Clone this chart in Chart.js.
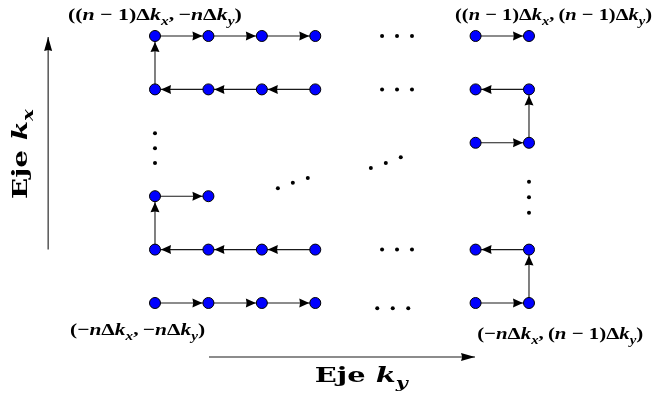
<!DOCTYPE html>
<html><head><meta charset="utf-8">
<script src="https://cdn.jsdelivr.net/npm/chart.js@4"></script>
<style>html,body{margin:0;padding:0;background:#fff;}canvas{display:block}</style>
</head><body>
<canvas id="c" width="653" height="398"></canvas>
<script>
// Grid traversal paths: [column (k_y index), row (k_x index)]
const pathLeftRow0     = [[0,0],[1,0],[2,0],[3,0]];
const pathLeftRows1to2 = [[3,1],[2,1],[1,1],[0,1],[0,2],[1,2]];
const pathLeftRows4to5 = [[3,4],[2,4],[1,4],[0,4],[0,5],[1,5],[2,5],[3,5]];
const pathRightRows0to1 = [[6,0],[7,0],[7,1],[6,1]];
const pathRightRows3to4 = [[6,3],[7,3],[7,4],[6,4]];
const pathRightRow5     = [[6,5],[7,5]];
// Ellipsis dots
const ellipsisRows = [[4.25,5],[4.53,5],[4.81,5],[4.25,4],[4.53,4],[4.81,4],[4.25,1],[4.53,1],[4.81,1],[4.16,-0.1],[4.45,-0.1],[4.74,-0.1]];
const ellipsisCols = [[0,3.18],[0,2.9],[0,2.62],[7,2.27],[7,1.98],[7,1.69]];
const ellipsisDiag = [[2.30,2.15],[2.58,2.25],[2.86,2.34],[4.04,2.53],[4.32,2.62],[4.60,2.73]];
// Axis arrows
const axisKx = [[-2,1],[-2,4.98]];
const axisKy = [[1.01,-1.01],[5.99,-1.01]];
// Corner labels: runs (r = bold upright, i = bold italic, s = italic subscript)
const labelTopLeft     = [['((','r'],['n','i'],[' − 1)Δ','r'],['k','i'],['x','s'],[',\u2009−','r'],['n','i'],['Δ','r'],['k','i'],['y','s'],[')','r']];
const labelTopRight    = [['((','r'],['n','i'],[' − 1)Δ','r'],['k','i'],['x','s'],[',\u2009(','r'],['n','i'],[' − 1)Δ','r'],['k','i'],['y','s'],[')','r']];
const labelBottomLeft  = [['(−','r'],['n','i'],['Δ','r'],['k','i'],['x','s'],[',\u2009−','r'],['n','i'],['Δ','r'],['k','i'],['y','s'],[')','r']];
const labelBottomRight = [['(−','r'],['n','i'],['Δ','r'],['k','i'],['x','s'],[',\u2009(','r'],['n','i'],[' − 1)Δ','r'],['k','i'],['y','s'],[')','r']];
const titleKx = [['Eje ','r'],['k','i'],['x','s']];
const titleKy = [['Eje ','r'],['k','i'],['y','s']];

const LABEL_FONT = '"Liberation Serif", serif';
const TITLE_FONT = '"DejaVu Serif", serif';
function runFont(style, size, fam){
  if(style==='r') return 'bold '+size+'px '+fam;
  if(style==='i') return 'italic bold '+size+'px '+fam;
  return 'italic bold '+Math.round(size*0.7)+'px '+fam;
}
function richWidth(ctx, runs, size, fam){
  let w=0; for(const [t,s] of runs){ctx.font=runFont(s,size,fam); w+=ctx.measureText(t).width;} return w;
}
function drawRich(ctx, runs, x, y, size, fam, fitW, align, rot){
  const nat = richWidth(ctx, runs, size, fam);
  const sx = fitW ? fitW/nat : 1;
  const w = nat*sx;
  ctx.save();
  ctx.translate(x,y);
  if(rot) ctx.rotate(rot);
  let start = align==='center' ? -w/2 : 0;
  ctx.translate(start,0);
  ctx.scale(sx,1);
  ctx.fillStyle='#000';
  ctx.textBaseline='alphabetic';
  let cx=0;
  for(const [t,s] of runs){
    ctx.font=runFont(s,size,fam);
    const dy = s==='s' ? size*0.3 : 0;
    ctx.fillText(t,cx,dy);
    cx+=ctx.measureText(t).width;
  }
  ctx.restore();
}
function arrowHead(ctx, x0,y0,x1,y1, gap, len, half){
  const dx=x1-x0, dy=y1-y0, d=Math.hypot(dx,dy); const ux=dx/d, uy=dy/d;
  const tx=x1-ux*gap, ty=y1-uy*gap;
  const bx=tx-ux*len, by=ty-uy*len;
  ctx.beginPath();
  ctx.moveTo(tx,ty);
  ctx.lineTo(bx-uy*half, by+ux*half);
  ctx.lineTo(bx+ux*len*0.08, by+uy*len*0.08);
  ctx.lineTo(bx+uy*half, by-ux*half);
  ctx.closePath();
  ctx.fillStyle='#000';
  ctx.fill();
}

const arrowPlugin = {
  id:'arrows',
  afterDatasetsDraw(chart){
    const ctx=chart.ctx;
    chart.data.datasets.forEach((ds,i)=>{
      if(!ds.arrowLen) return;
      const pts=chart.getDatasetMeta(i).data;
      for(let j=1;j<pts.length;j++){
        arrowHead(ctx, pts[j-1].x, pts[j-1].y, pts[j].x, pts[j].y, ds.arrowGap, ds.arrowLen, ds.arrowHalf);
      }
    });
  },
  afterDraw(chart){
    const ctx=chart.ctx, xs=chart.scales.x, ys=chart.scales.y;
    const X=v=>xs.getPixelForValue(v), Y=v=>ys.getPixelForValue(v);
    drawRich(ctx, labelTopLeft,     X(-1.63), Y(5.30), 17, LABEL_FONT, 174, 'left');
    drawRich(ctx, labelTopRight,    X(5.615), Y(5.30), 17, LABEL_FONT, 197, 'left');
    drawRich(ctx, labelBottomLeft,  X(-1.59), Y(-0.59), 17, LABEL_FONT, 135, 'left');
    drawRich(ctx, labelBottomRight, X(6.03),  Y(-0.68), 17, LABEL_FONT, 166, 'left');
    drawRich(ctx, titleKy, X(3.86), Y(-1.48), 21, TITLE_FONT, 93, 'center');
    drawRich(ctx, titleKx, X(-2.4), Y(2.79), 21, TITLE_FONT, 90, 'center', -Math.PI/2);
  }
};

const toXY = arr => arr.map(([c,r])=>({x:c,y:r}));
const pathStyle = {showLine:true, borderColor:'#1a1a1a', borderWidth:1.1, pointRadius:5.5, pointHoverRadius:5.5,
  pointBackgroundColor:'#0000ff', pointBorderColor:'#000', pointBorderWidth:1, clip:false,
  arrowLen:10, arrowHalf:4.5, arrowGap:6};
const axisStyle = {showLine:true, borderColor:'#1a1a1a', borderWidth:1.1, pointRadius:0, pointHoverRadius:0, clip:false,
  arrowLen:14, arrowHalf:4, arrowGap:0};
const dotStyle = {showLine:false, pointRadius:2, pointHoverRadius:2, pointBackgroundColor:'#000', pointBorderWidth:0, clip:false};

new Chart(document.getElementById('c'), {
  type:'scatter',
  data:{datasets:[
    {...axisStyle, data:toXY(axisKx)},
    {...axisStyle, data:toXY(axisKy)},
    {...dotStyle, data:toXY(ellipsisRows)},
    {...dotStyle, data:toXY(ellipsisCols)},
    {...dotStyle, data:toXY(ellipsisDiag)},
    {...pathStyle, data:toXY(pathLeftRow0)},
    {...pathStyle, data:toXY(pathLeftRows1to2)},
    {...pathStyle, data:toXY(pathLeftRows4to5)},
    {...pathStyle, data:toXY(pathRightRows0to1)},
    {...pathStyle, data:toXY(pathRightRows3to4)},
    {...pathStyle, data:toXY(pathRightRow5)}
  ]},
  options:{
    responsive:false, animation:false, events:[],
    layout:{padding:0, autoPadding:false},
    plugins:{legend:{display:false}, tooltip:{enabled:false}},
    scales:{
      x:{type:'linear', display:false, min:-2.901, max:9.321},
      y:{type:'linear', display:false, min:-1.779, max:5.674}
    }
  },
  plugins:[arrowPlugin]
});
</script>
</body></html>
